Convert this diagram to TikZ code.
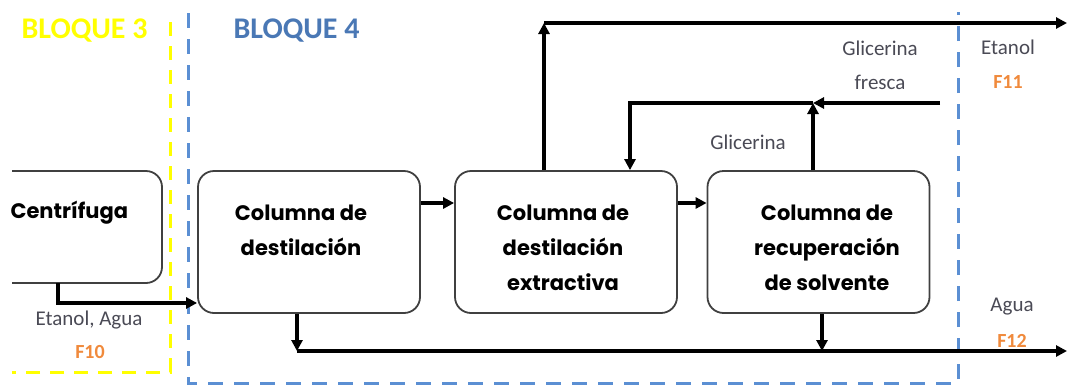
\documentclass[tikz,border=0pt]{standalone}
\usepackage{fontspec}
\setmainfont{Carlito}
\newfontfamily\boxfont{Poppins}
\usetikzlibrary{arrows.meta}
\definecolor{bl3}{HTML}{FFFF00}
\definecolor{bl4}{HTML}{5B8FD3}
\definecolor{bl4t}{HTML}{4A78B5}
\definecolor{fcol}{HTML}{F08A3C}
\definecolor{lcol}{HTML}{4A4A55}
\begin{document}
\begin{tikzpicture}[x=1pt,y=-1pt,
  box/.style={draw=black!75, line width=1.8pt, rounded corners=16pt, minimum width=222pt, minimum height=142pt},
  btext/.style={font=\boxfont\bfseries\fontsize{21}{35}\selectfont, align=center, text=black},
  flow/.style={line width=3.2pt, -{Triangle[length=11pt,width=11pt]}},
  lbl/.style={font=\fontsize{21}{34}\selectfont, text=lcol, align=center},
  flab/.style={font=\bfseries\fontsize{20}{34}\selectfont, text=fcol},
  blq/.style={font=\bfseries\fontsize{30}{30}\selectfont}]
\useasboundingbox (0,0) rectangle (1067,389);
% block borders
\draw[bl3, line width=3pt, dash pattern=on 14pt off 10pt] (170,22) -- (170,372) -- (12,372);
\draw[bl4, line width=3pt, dash pattern=on 15pt off 11pt] (188,13) -- (188,383) -- (958,383) -- (958,12);
\node[blq, text=bl3, anchor=west] (t3) at (18,31) {BLOQUE 3};
\node[blq, text=bl4t, anchor=west] (t4) at (230,31) {BLOQUE 4};
% centrifuga (cut at left)
\draw[black!75, line width=1.8pt, rounded corners=16pt] (12,171) -- (162,171) -- (162,283) -- (12,283);
\node[btext, anchor=west] (cen) at (7,213) {Centrífuga};
\coordinate (cenb) at (58,283);
% boxes
\node[box] (b1) at (309,242) {};
\node[box] (b2) at (566,242) {};
\node[box] (b3) at (818.5,242) {};
\node[btext] (t1) at (301,230) {Columna de\\destilación};
\node[btext] (t2) at (563,248) {Columna de\\destilación\\extractiva};
\node[btext] (t3b) at (827,248) {Columna de\\recuperación\\de solvente};
% connectors
\coordinate (r1) at (0,303);
\draw[flow] (cenb) |- (b1.west |- r1);
\draw[flow] ([yshift=39pt]b1.east) -- ([yshift=39pt]b2.west);
\draw[flow] ([yshift=39pt]b2.east) -- ([yshift=39pt]b3.west);
\coordinate (etop) at (544,23);
\coordinate (eout) at (1067,23);
\draw[flow] ([xshift=-22pt]b2.north) -- (etop);
\draw[flow] (etop) -- (eout);
\coordinate (gj) at (813,103);
\coordinate (gf) at (940,103);
\draw[flow] ([xshift=-5.5pt]b3.north) -- (gj);
\draw[flow] (gf) -- (gj);
\draw[flow] (gj) -| ([xshift=64pt]b2.north);
\coordinate (w1) at (297,351);
\coordinate (w3) at (822,351);
\coordinate (wout) at (1067,351);
\draw[flow] ([xshift=-12pt]b1.south) -- (w1);
\draw[flow] (w1) -- (wout);
\draw[flow] ([xshift=3.5pt]b3.south) -- (w3);
% labels
\node[lbl] (l1) at (89,320) {Etanol, Agua};
\node[flab] (f10) at (90,352) {F10};
\node[lbl] (l2) at (880,65) {Glicerina\\fresca};
\node[lbl] (l3) at (748,142) {Glicerina};
\node[lbl] (l4) at (1008,47) {Etanol};
\node[flab] (f11) at (1008,82) {F11};
\node[lbl] (l5) at (1012,307) {Agua};
\node[flab] (f12) at (1012,341) {F12};
\end{tikzpicture}
\end{document}
